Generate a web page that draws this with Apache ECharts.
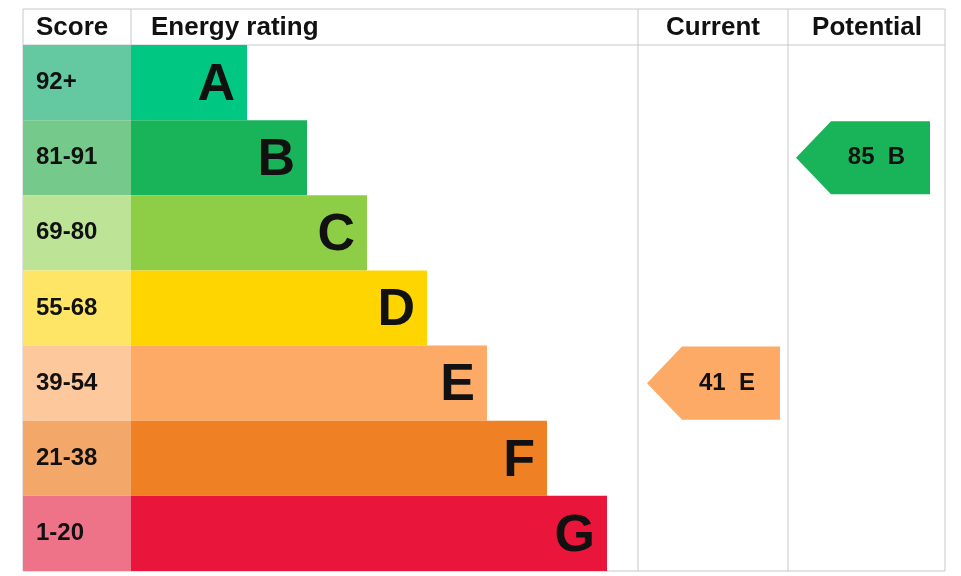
<!DOCTYPE html>
<html><head><meta charset="utf-8">
<script src="https://cdn.jsdelivr.net/npm/echarts@6/dist/echarts.min.js"></script>
<style>html,body{margin:0;padding:0;background:#fff}#c{width:961px;height:576px}</style>
</head><body><div id="c"></div>
<script>
const bands = ['A','B','C','D','E','F','G'];
const scoreLabels = ['92+','81-91','69-80','55-68','39-54','21-38','1-20'];
const bandRank = [1,2,3,4,5,6,7];
const bandColors = ['#00c781','#19b459','#8dce46','#ffd500','#fcaa65','#ef8023','#e9153b'];
const scoreColors = ['#64c9a0','#75c98a','#bde496','#ffe566','#fdc89c','#f3a86a','#ef7388'];
const currentScore = 41, currentBand = 'E';
const potentialScore = 85, potentialBand = 'B';
const headers = ['Score','Energy rating','Current','Potential'];

const F = 'Liberation Sans, Arial, sans-serif';
const chart = echarts.init(document.getElementById('c'));
const gridTop = 45, gridBottom = 5;
function arrow(params, api, x0, x1, text, color){
  const yi = api.value(0);
  const c = api.coord([0, yi]);
  const h = api.size([0,1])[1];
  const t = c[1]-h/2+1, b = c[1]+h/2-1;
  const tipW = 35;
  return {type:'group',children:[
    {type:'polygon',shape:{points:[[x0,c[1]],[x0+tipW,t],[x1,t],[x1,b],[x0+tipW,b]]},style:{fill:color}},
    {type:'text',style:{text:text,x:(x0+tipW+x1)/2-4,y:c[1],align:'center',verticalAlign:'middle',font:'bold 24px '+F,fill:'#111'}}
  ]};
}
const option = {
  animation:false,
  grid:{left:131,width:476,top:gridTop,bottom:gridBottom},
  xAxis:{type:'value',min:-0.9333,max:7,show:false},
  yAxis:{type:'category',data:bands,inverse:true,show:false},
  graphic:[
    {type:'rect',shape:{x:23,y:9,width:922,height:562},style:{fill:'none',stroke:'#c8c8c8',lineWidth:1}},
    {type:'line',shape:{x1:23,y1:45,x2:945,y2:45},style:{stroke:'#c8c8c8'}},
    {type:'line',shape:{x1:131,y1:9,x2:131,y2:45},style:{stroke:'#c8c8c8'}},
    {type:'line',shape:{x1:638,y1:9,x2:638,y2:571},style:{stroke:'#c8c8c8'}},
    {type:'line',shape:{x1:788,y1:9,x2:788,y2:571},style:{stroke:'#c8c8c8'}},
    {type:'text',style:{text:headers[0],x:36,y:28,verticalAlign:'middle',font:'bold 26px '+F,fill:'#111'}},
    {type:'text',style:{text:headers[1],x:151,y:28,verticalAlign:'middle',font:'bold 26px '+F,fill:'#111'}},
    {type:'text',style:{text:headers[2],x:713,y:28,align:'center',verticalAlign:'middle',font:'bold 26px '+F,fill:'#111'}},
    {type:'text',style:{text:headers[3],x:867,y:28,align:'center',verticalAlign:'middle',font:'bold 26px '+F,fill:'#111'}}
  ],
  series:[
    {type:'custom',data:bands.map((b,i)=>[bandRank[i],i]),encode:{x:0,y:1},
     renderItem:(p,api)=>{
       const i=api.value(1);
       const s=api.coord([-0.9333,i]), e=api.coord([api.value(0),i]);
       const h=api.size([0,1])[1];
       return {type:'group',children:[
         {type:'rect',shape:{x:23,y:s[1]-h/2,width:s[0]-23,height:h},style:{fill:scoreColors[i]}},
         {type:'text',style:{text:scoreLabels[i],x:36,y:s[1],verticalAlign:'middle',font:'bold 24px '+F,fill:'#111'}},
         {type:'rect',shape:{x:s[0],y:s[1]-h/2,width:e[0]-s[0],height:h},style:{fill:bandColors[i]}},
         {type:'text',style:{text:bands[i],x:e[0]-12,y:s[1]+3,align:'right',verticalAlign:'middle',font:'bold 52px '+F,fill:'#111'}}
       ]};
     }},
    {type:'custom',data:[[bands.indexOf(currentBand)]],encode:{y:0},
     renderItem:(p,api)=>arrow(p,api,647,780,currentScore+'  '+currentBand,bandColors[bands.indexOf(currentBand)])},
    {type:'custom',data:[[bands.indexOf(potentialBand)]],encode:{y:0},
     renderItem:(p,api)=>arrow(p,api,796,930,potentialScore+'  '+potentialBand,bandColors[bands.indexOf(potentialBand)])}
  ]
};
chart.setOption(option);
</script></body></html>
